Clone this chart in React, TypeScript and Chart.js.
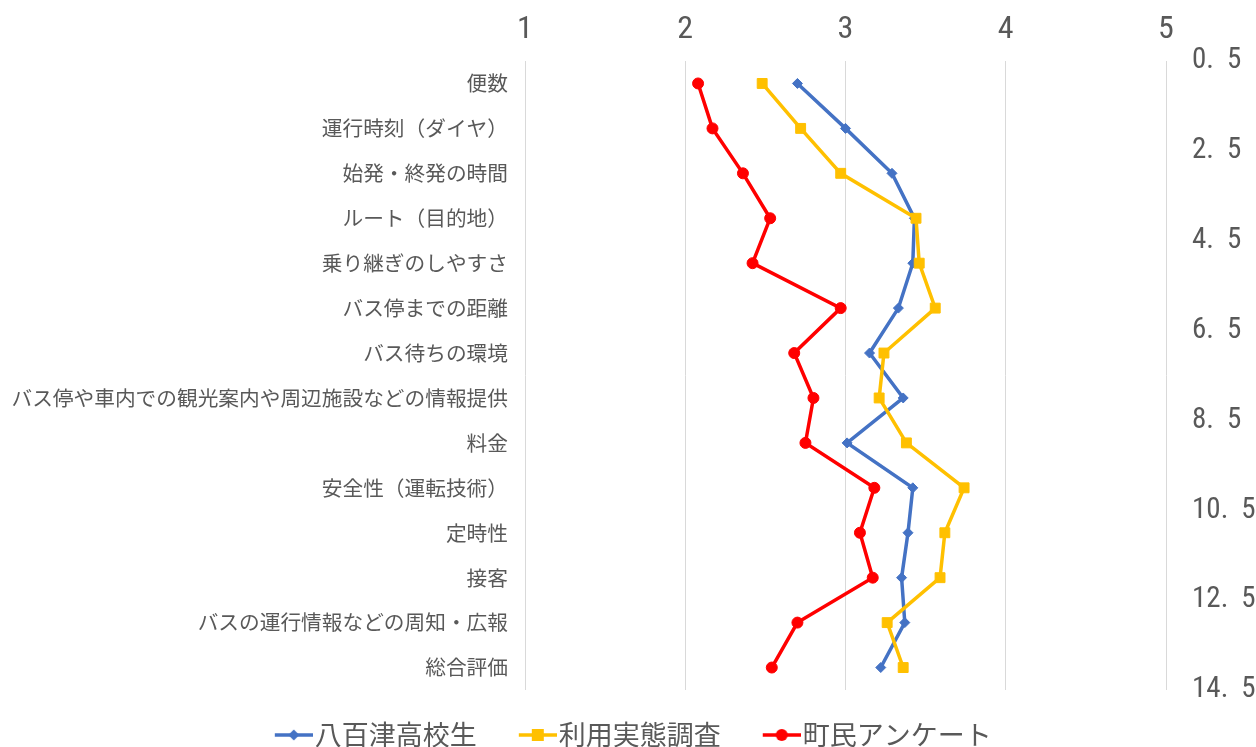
import React, { useEffect, useRef } from 'react';
import { Chart, registerables } from 'chart.js';

Chart.register(...registerables);

const categories = [
  '便数',
  '運行時刻（ダイヤ）',
  '始発・終発の時間',
  'ルート（目的地）',
  '乗り継ぎのしやすさ',
  'バス停までの距離',
  'バス待ちの環境',
  'バス停や車内での観光案内や周辺施設などの情報提供',
  '料金',
  '安全性（運転技術）',
  '定時性',
  '接客',
  'バスの運行情報などの周知・広報',
  '総合評価',
];

const seriesNames = ['八百津高校生', '利用実態調査', '町民アンケート'];

const koukouseiValues = [2.70, 3.00, 3.29, 3.43, 3.42, 3.33, 3.15, 3.36, 3.01, 3.42, 3.39, 3.35, 3.37, 3.22];
const jittaiValues = [2.48, 2.72, 2.97, 3.44, 3.46, 3.56, 3.24, 3.21, 3.38, 3.74, 3.62, 3.59, 3.26, 3.36];
const chouminValues = [2.08, 2.17, 2.36, 2.53, 2.42, 2.97, 2.68, 2.80, 2.75, 3.18, 3.09, 3.17, 2.70, 2.54];

const xTicks = [1, 2, 3, 4, 5];
const rightTicks = [0.5, 2.5, 4.5, 6.5, 8.5, 10.5, 12.5, 14.5];

const BLUE = '#4472C4';
const YELLOW = '#FFC000';
const RED = '#FF0000';
const TEXT = '#595959';
const JP = "'Noto Sans CJK JP', 'Noto Sans', sans-serif";
const NUM = "'Liberation Sans Narrow', 'Roboto Condensed', 'Liberation Sans', sans-serif";

const LEGEND_FONT = 27;
const LEGEND_PAD = 31.5;
const LEGEND_BOX = 37;

function makeIcon(color: string, style: string, r: number): HTMLCanvasElement {
  const W = LEGEND_BOX + LEGEND_FONT - 4;
  const c = document.createElement('canvas');
  c.width = W;
  c.height = 18;
  const ctx = c.getContext('2d')!;
  const x0 = W - 38;
  const cx = x0 + 19;
  ctx.strokeStyle = color;
  ctx.lineWidth = 3.5;
  ctx.beginPath();
  ctx.moveTo(x0, 9);
  ctx.lineTo(W, 9);
  ctx.stroke();
  ctx.fillStyle = color;
  ctx.beginPath();
  if (style === 'rectRot') {
    ctx.moveTo(cx, 9 - r);
    ctx.lineTo(cx + r, 9);
    ctx.lineTo(cx, 9 + r);
    ctx.lineTo(cx - r, 9);
    ctx.closePath();
  } else if (style === 'rect') {
    ctx.rect(cx - r, 9 - r, 2 * r, 2 * r);
  } else {
    ctx.arc(cx, 9, r, 0, Math.PI * 2);
  }
  ctx.fill();
  return c;
}

export default function App() {
  const ref = useRef<HTMLCanvasElement | null>(null);

  useEffect(() => {
    if (!ref.current) return;
    const toPoints = (vals: number[]) => vals.map((v, i) => ({ x: v, y: i + 1 }));
    const icons = [makeIcon(BLUE, 'rectRot', 5.5), makeIcon(YELLOW, 'rect', 6), makeIcon(RED, 'circle', 6)];
    const colors = [BLUE, YELLOW, RED];

    const chart = new Chart(ref.current, {
      type: 'scatter',
      data: {
        datasets: [
          {
            label: seriesNames[0],
            data: toPoints(koukouseiValues),
            showLine: true,
            borderColor: BLUE,
            backgroundColor: BLUE,
            borderWidth: 3.5,
            pointStyle: 'rectRot',
            pointRadius: 5,
            pointBorderWidth: 1,
            order: 3,
            xAxisID: 'x',
            yAxisID: 'y',
          },
          {
            label: seriesNames[1],
            data: toPoints(jittaiValues),
            showLine: true,
            borderColor: YELLOW,
            backgroundColor: YELLOW,
            borderWidth: 3.5,
            pointStyle: 'rect',
            pointRadius: 7,
            pointBorderWidth: 1,
            order: 2,
            xAxisID: 'x',
            yAxisID: 'y',
          },
          {
            label: seriesNames[2],
            data: toPoints(chouminValues),
            showLine: true,
            borderColor: RED,
            backgroundColor: RED,
            borderWidth: 3.5,
            pointStyle: 'circle',
            pointRadius: 5.5,
            pointBorderWidth: 1,
            order: 1,
            xAxisID: 'x',
            yAxisID: 'y',
          },
        ],
      },
      options: {
        responsive: false,
        animation: false,
        devicePixelRatio: 1,
        layout: { padding: { left: 0, right: 0, top: 0, bottom: 47 - LEGEND_FONT - LEGEND_PAD } },
        plugins: {
          tooltip: { enabled: false },
          legend: {
            display: true,
            position: 'bottom',
            labels: {
              usePointStyle: true,
              pointStyleWidth: LEGEND_BOX,
              boxWidth: LEGEND_BOX,
              boxHeight: 15,
              padding: LEGEND_PAD,
              color: TEXT,
              font: { family: JP, size: LEGEND_FONT },
              generateLabels: () =>
                seriesNames.map((name, i) => ({
                  text: name,
                  fillStyle: colors[i],
                  strokeStyle: colors[i],
                  lineWidth: 0,
                  pointStyle: icons[i],
                  datasetIndex: i,
                  hidden: false,
                  fontColor: TEXT,
                })),
            },
          },
        },
        scales: {
          x: {
            type: 'linear',
            position: 'top',
            min: 1,
            max: 5,
            afterBuildTicks: (ax: any) => {
              ax.ticks = xTicks.map((v) => ({ value: v }));
            },
            afterFit: (ax: any) => {
              ax.height = 61;
            },
            ticks: {
              color: TEXT,
              font: { family: NUM, size: 32 },
              padding: 12,
              autoSkip: false,
              maxRotation: 0,
            },
            grid: { color: '#d9d9d9', lineWidth: 1, drawTicks: false },
            border: { display: false },
          },
          y: {
            type: 'linear',
            position: 'left',
            min: 0.5,
            max: 14.5,
            reverse: true,
            afterBuildTicks: (ax: any) => {
              ax.ticks = categories.map((_, i) => ({ value: i + 1 }));
            },
            afterFit: (ax: any) => {
              ax.width = 525;
            },
            ticks: {
              color: TEXT,
              font: { family: JP, size: 20.7 },
              padding: 17,
              autoSkip: false,
              callback: (v: any) => categories[Number(v) - 1] ?? '',
            },
            grid: { display: false, drawTicks: false },
            border: { display: false },
          },
          y2: {
            type: 'linear',
            position: 'right',
            min: 0.5,
            max: 14.5,
            reverse: true,
            afterBuildTicks: (ax: any) => {
              ax.ticks = rightTicks.map((v) => ({ value: v }));
            },
            afterFit: (ax: any) => {
              ax.width = 90;
            },
            ticks: {
              color: TEXT,
              font: { family: NUM, size: 29 },
              padding: 26,
              autoSkip: false,
              callback: (v: any) => Number(v).toFixed(1).replace('.', '.\u2002'),
            },
            grid: { display: false, drawTicks: false },
            border: { display: false },
          },
        },
      },
    });
    return () => chart.destroy();
  }, []);

  return (
    <div style={{ position: 'absolute', left: 0, top: 0, width: 1256, height: 747, background: '#fff' }}>
      <canvas ref={ref} width={1256} height={747} />
    </div>
  );
}
